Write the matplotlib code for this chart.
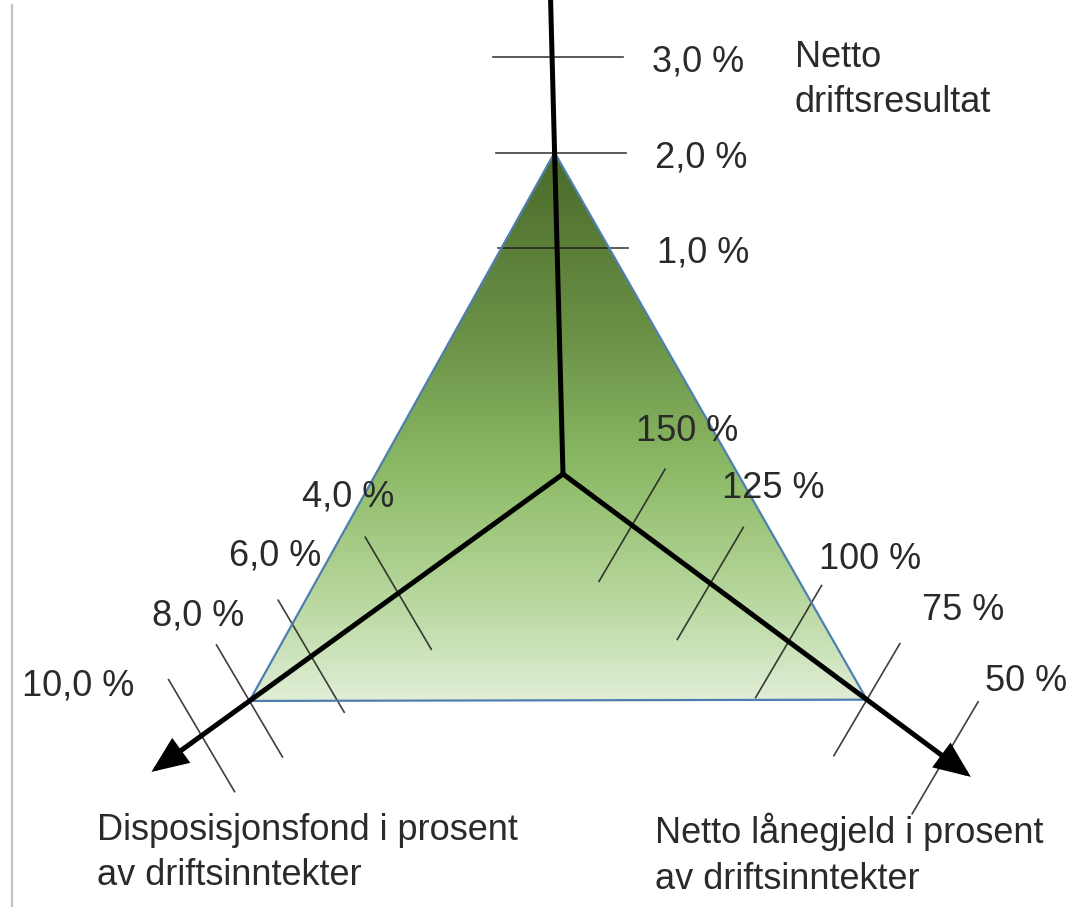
import numpy as np
import matplotlib
matplotlib.use("Agg")
from matplotlib import pyplot as plt
from matplotlib.colors import LinearSegmentedColormap
from matplotlib.patches import Polygon, FancyArrowPatch

# --- data ---------------------------------------------------------------
resultat_ticks = [1.0, 2.0, 3.0]            # Netto driftsresultat (%)
fond_ticks = [4.0, 6.0, 8.0, 10.0]          # Disposisjonsfond (%)
gjeld_ticks = [150, 125, 100, 75, 50]       # Netto lånegjeld (%)

resultat_labels = ["1,0 %", "2,0 %", "3,0 %"]
fond_labels = ["4,0 %", "6,0 %", "8,0 %", "10,0 %"]
gjeld_labels = ["150 %", "125 %", "100 %", "75 %", "50 %"]

# target triangle (resultat, fond, gjeld)
target_resultat = 2.0
target_fond = 8.0
target_gjeld = 75

# --- layout (pixel space, y downwards) -----------------------------------
W, H = 1066, 907
center = np.array([563.0, 474.0])


def direction(deg):
    a = np.radians(deg)
    return np.array([np.cos(a), -np.sin(a)])


dir_top = direction(91.5)
dir_left = direction(215.9)
dir_right = direction(-36.6)


# each axis has its own scale: value -> distance from centre
def scale_resultat(v):
    return 321.5 + 95.5 * (np.asarray(v) - 2.0)


def scale_fond(v):
    return -164 + 265 * np.log(np.asarray(v))


def scale_gjeld(v):
    return 281 - 3.9 * (np.asarray(v) - 100)


def point(d, dvec):
    return center + d * dvec


text_kw = dict(fontsize=26, color="#2a2a2a", family=["Liberation Sans", "DejaVu Sans"])

fig = plt.figure(figsize=(W / 100, H / 100), dpi=100)
ax = fig.add_axes([0, 0, 1, 1])
ax.set_xlim(0, W)
ax.set_ylim(H, 0)
ax.axis("off")

# thin grey frame line at the left edge
ax.plot([12, 12], [5, H], color="#c4c4c4", lw=1.6)

# --- gradient triangle --------------------------------------------------
tri = np.array([
    point(scale_resultat(target_resultat), dir_top),
    point(scale_fond(target_fond), dir_left),
    point(scale_gjeld(target_gjeld), dir_right),
])
x0, x1 = tri[:, 0].min(), tri[:, 0].max()
y0, y1 = tri[:, 1].min(), tri[:, 1].max()
cmap = LinearSegmentedColormap.from_list("grn", [
    (0.0, "#4a6a2a"), (0.33, "#6a9146"), (0.58, "#8cba66"),
    (0.82, "#b9d89f"), (1.0, "#e0eed6")])
grad = np.linspace(0, 1, 256).reshape(-1, 1)
im = ax.imshow(grad, cmap=cmap, extent=[x0, x1, y1, y0], aspect="auto",
               interpolation="bicubic", zorder=1)
poly = Polygon(tri, closed=True, facecolor="none", edgecolor="#4f7fb0",
               lw=1.6, zorder=3)
ax.add_patch(poly)
im.set_clip_path(poly)

# --- tick marks ---------------------------------------------------------
tick_len = 130
tick_kw = dict(color="#1c1c1c", lw=1.2, alpha=0.85, zorder=2)


def draw_ticks(values, scale, dvec, tick_angle, shift=0.0):
    t = np.array([np.cos(np.radians(tick_angle)), np.sin(np.radians(tick_angle))])
    pts = []
    for v in values:
        p = point(scale(v), dvec)
        c = p + np.array([shift, 0.0])
        a, b = c - t * tick_len / 2, c + t * tick_len / 2
        ax.plot([a[0], b[0]], [a[1], b[1]], **tick_kw)
        pts.append(p)
    return pts


top_pts = draw_ticks(resultat_ticks, scale_resultat, dir_top, 0, shift=6)
left_pts = draw_ticks(fond_ticks, scale_fond, dir_left, 59.5)
right_pts = draw_ticks(gjeld_ticks, scale_gjeld, dir_right, 120.5)

# --- axes ---------------------------------------------------------------
top_end = point(490, dir_top)
ax.plot([center[0], top_end[0]], [center[1], top_end[1]], color="black",
        lw=3.6, solid_capstyle="butt", zorder=4)
for dvec in (dir_left, dir_right):
    tip = point(508, dvec)
    arr = FancyArrowPatch(tuple(center), tuple(tip),
                          arrowstyle="-|>,head_length=1.0,head_width=0.42",
                          mutation_scale=20, color="black", lw=3.6,
                          shrinkA=0, shrinkB=0, joinstyle="miter", zorder=4)
    ax.add_patch(arr)

# --- tick labels --------------------------------------------------------
for p, lab in zip(top_pts, resultat_labels):
    ax.text(p[0] + 100, p[1] + 5, lab, ha="left", va="center", **text_kw)

fond_offsets = [(-4, -96), (10, -100), (-5, -85), (-67, -50)]
for p, lab, (dx, dy) in zip(left_pts, fond_labels, fond_offsets):
    ax.text(p[0] + dx, p[1] + dy, lab, ha="right", va="center", **text_kw)

gjeld_offsets = [(4, -94), (12, -95), (30, -82), (55, -89), (40, -76)]
for p, lab, (dx, dy) in zip(right_pts, gjeld_labels, gjeld_offsets):
    ax.text(p[0] + dx, p[1] + dy, lab, ha="left", va="center", **text_kw)

# --- axis titles --------------------------------------------------------
ax.text(795, 80, "Netto\ndriftsresultat", ha="left", va="center",
        linespacing=1.4, **text_kw)
ax.text(97, 853, "Disposisjonsfond i prosent\nav driftsinntekter",
        ha="left", va="center", linespacing=1.4, **text_kw)
ax.text(655, 855, "Netto lånegjeld i prosent\nav driftsinntekter",
        ha="left", va="center", linespacing=1.4, **text_kw)

fig.savefig("out.png", dpi=100, facecolor="white")
